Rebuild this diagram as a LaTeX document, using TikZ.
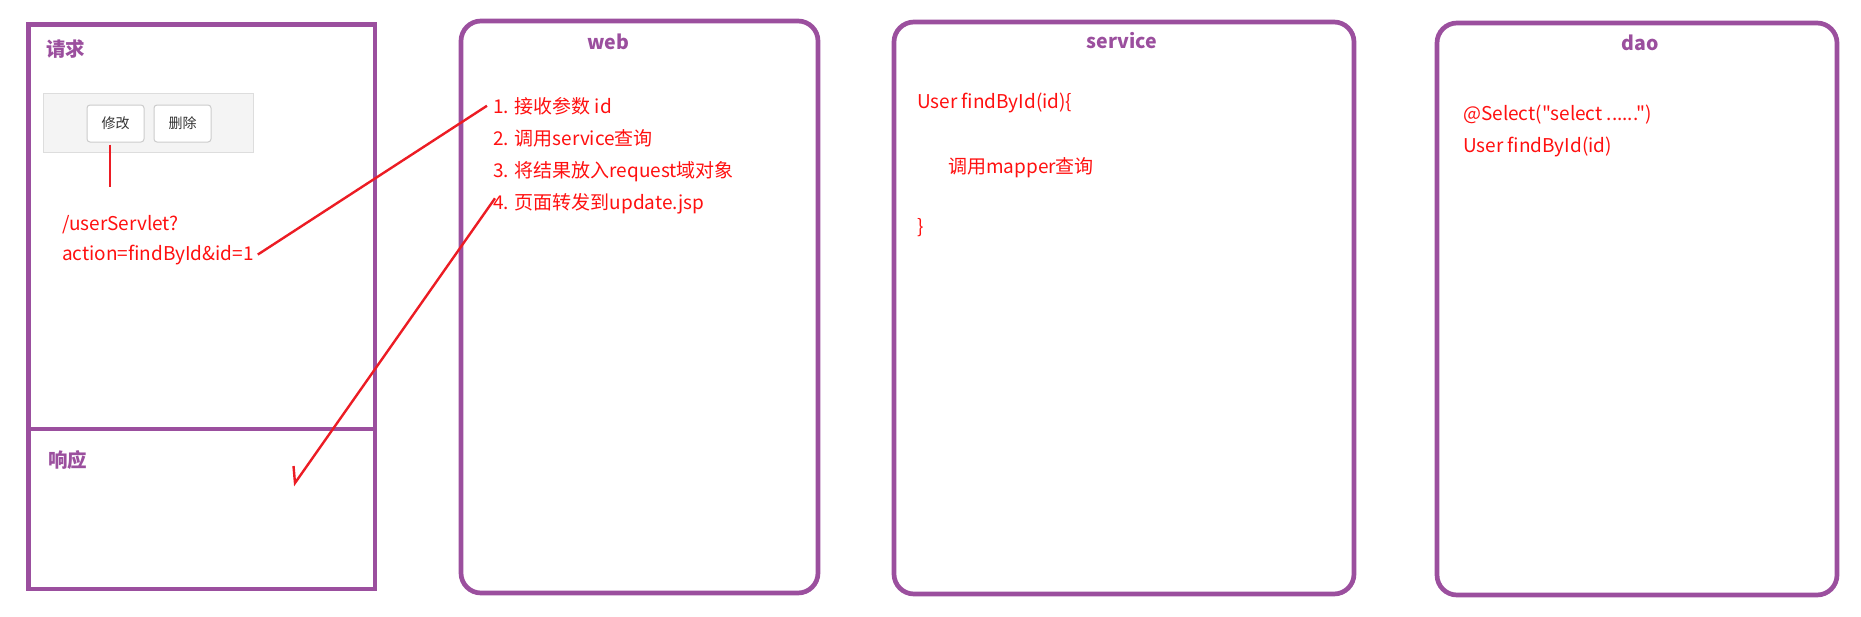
\documentclass[tikz,border=0pt]{standalone}
\usepackage{fontspec}
\setmainfont{Noto Sans CJK SC}[Ligatures=TeXOff]
\definecolor{boxpurple}{RGB}{155,79,158}
\definecolor{txtred}{RGB}{255,16,16}
\definecolor{linered}{RGB}{236,28,36}
\definecolor{bargray}{RGB}{244,244,244}
\definecolor{barline}{RGB}{221,221,221}
\definecolor{btnline}{RGB}{204,204,204}
\definecolor{btntext}{RGB}{51,51,51}
\tikzset{
  panel/.style={draw=boxpurple, line width=4.7pt, inner sep=0pt, outer sep=0pt},
  roundpanel/.style={panel, rounded corners=20pt},
  paneltitle/.style={text=boxpurple, font=\fontsize{19.5}{22}\selectfont\bfseries, inner sep=0pt},
  body/.style={text=txtred, font=\fontsize{19}{22}\selectfont, inner sep=0pt, anchor=base west},
  btn/.style={draw=btnline, fill=white, rounded corners=3pt, line width=1pt, minimum width=57pt, minimum height=37pt, inner sep=0pt, text=btntext, font=\fontsize{14}{16}\selectfont},
  redline/.style={draw=linered, line width=2.4pt}
}
\begin{document}
\begin{tikzpicture}[x=1pt, y=-1pt]
\useasboundingbox (0,0) rectangle (1861,616);
% left panel
\node[panel, minimum width=346.7pt, minimum height=404.3pt] (reqbox) at (201.65,226.85) {};
\node[panel, minimum width=346.7pt, minimum height=160pt] (respbox) at (201.65,509) {};
\node[paneltitle, anchor=west] (reqtitle) at (46,49) {请求};
\node[paneltitle, anchor=west] (resptitle) at (48,460) {响应};
% button bar
\node[draw=barline, fill=bargray, line width=1pt, minimum width=210pt, minimum height=59pt, inner sep=0pt] (bar) at (148.5,123) {};
\node[btn] (edit) at (115.5,123.5) {修改};
\node[btn] (del) at (182.5,123.5) {删除};
\coordinate (urltop) at (110,187);
\draw[redline] ([yshift=-2pt]urltop |- edit.south) -- (urltop);
\node[body] (url1) at (62,230) {/userServlet?};
\node[body, inner xsep=4pt] (url2) at (58,260) {action=findById\&id=1};
% web
\node[roundpanel, minimum width=357pt, minimum height=572pt] (web) at (639.5,307) {};
\node[paneltitle] (webtitle) at (608,42) {web};
\node[body, inner xsep=6pt] (w1) at (487,113) {1. 接收参数 id};
\node[body] (w2) at (493,145) {2. 调用service查询};
\node[body] (w3) at (493,177) {3. 将结果放入request域对象};
\node[body] (w4) at (493,209) {4. 页面转发到update.jsp};
% service
\node[roundpanel, minimum width=460pt, minimum height=572pt] (service) at (1124,308) {};
\node[paneltitle] (servicetitle) at (1122,41) {service};
\node[body] (s1) at (917,108) {User findById(id)\{};
\node[body] (s2) at (948,173) {调用mapper查询};
\node[body] (s3) at (917,233) {\}};
% dao
\node[roundpanel, minimum width=400pt, minimum height=572pt] (dao) at (1637,309) {};
\node[paneltitle] (daotitle) at (1640,43) {dao};
\node[body] (d1) at (1463,120) {@Select("select ......")};
\node[body] (d2) at (1463,152) {User findById(id)};
% connectors
\draw[redline] (url2.east) -- (w1.west);
\coordinate (respend) at (295,483);
\draw[redline] ([xshift=2pt,yshift=5pt]w4.west) -- (respend) -- ++(-1.5,-17);
\end{tikzpicture}
\end{document}
